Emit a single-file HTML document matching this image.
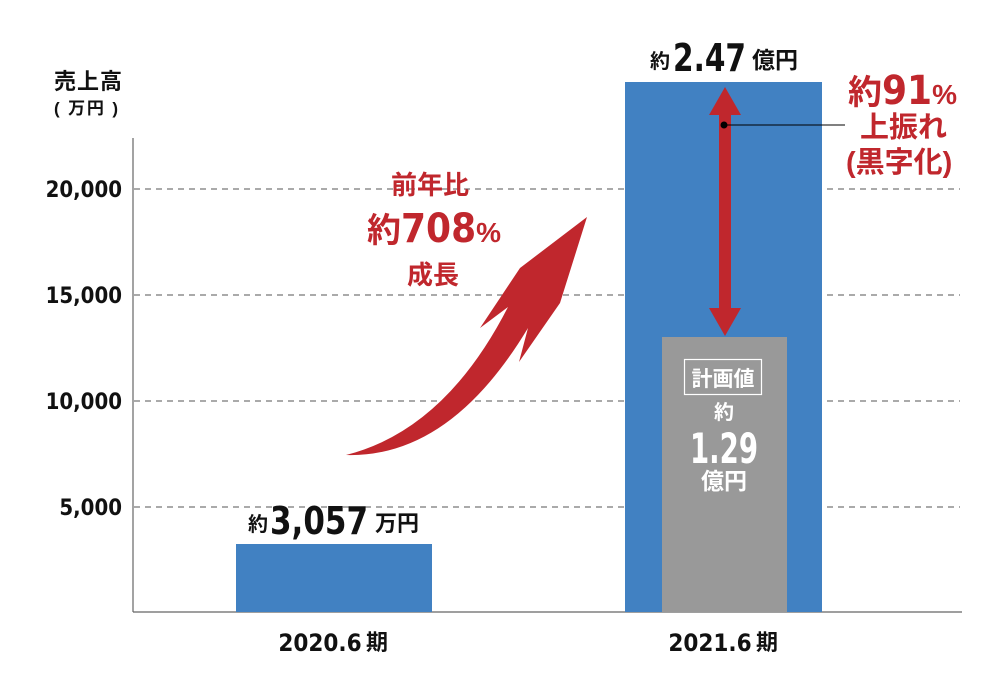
<!DOCTYPE html>
<html><head><meta charset="utf-8"><style>
body{margin:0;background:#fff}
svg{display:block}
.j{font-family:"Liberation Sans","Noto Sans CJK JP",sans-serif;font-weight:bold}
.n{font-family:"DejaVu Sans Condensed","Liberation Sans",sans-serif;font-weight:bold}
</style></head><body>
<svg width="1000" height="696" viewBox="0 0 1000 696">
<g stroke="#555" stroke-width="1" stroke-dasharray="6,5">
<line x1="134" y1="189" x2="960" y2="189"/>
<line x1="134" y1="295" x2="960" y2="295"/>
<line x1="134" y1="401" x2="960" y2="401"/>
<line x1="134" y1="507" x2="960" y2="507"/>
</g>
<line x1="133" y1="138" x2="133" y2="612" stroke="#666" stroke-width="1.2"/>
<line x1="133" y1="612" x2="962" y2="612" stroke="#666" stroke-width="1.2"/>
<rect x="236" y="544" width="196" height="68" fill="#4181c2"/>
<rect x="625" y="82" width="197" height="530" fill="#4181c2"/>
<rect x="662" y="337" width="125" height="275" fill="#999"/>
<g class="n" font-size="22" fill="#111" text-anchor="end">
<text x="122" y="197">20,000</text>
<text x="122" y="303">15,000</text>
<text x="122" y="409">10,000</text>
<text x="122" y="515">5,000</text>
</g>
<text class="j" x="54" y="89" font-size="22" fill="#111" textLength="68">売上高</text>
<text class="j" x="54" y="114" font-size="17" fill="#111" textLength="64">( 万円 )</text>
<text class="j" x="248" y="531" font-size="20" fill="#111">約</text>
<text class="n" x="270" y="534" font-size="38" fill="#111" textLength="98" lengthAdjust="spacingAndGlyphs">3,057</text>
<text class="j" x="375" y="531" font-size="22" fill="#111">万円</text>
<text class="j" x="650" y="68" font-size="20" fill="#111">約</text>
<text class="n" x="673" y="71" font-size="38" fill="#111" textLength="73" lengthAdjust="spacingAndGlyphs">2.47</text>
<text class="j" x="752" y="68" font-size="23" fill="#111">億円</text>
<text class="j" x="848" y="104" font-size="34" fill="#c0272d">約<tspan class="n" font-size="40">91</tspan><tspan font-size="28">%</tspan></text>
<text class="j" x="860" y="137" font-size="29" fill="#c0272d">上振れ</text>
<text class="j" x="846" y="172" font-size="29" fill="#c0272d">(黒字化)</text>
<text class="j" x="430" y="194" font-size="26" fill="#c0272d" text-anchor="middle">前年比</text>
<text class="j" x="367" y="242" font-size="34" fill="#c0272d">約<tspan class="n" font-size="40">708</tspan><tspan font-size="28">%</tspan></text>
<text class="j" x="433" y="284" font-size="26" fill="#c0272d" text-anchor="middle">成長</text>
<path d="M346,455 Q445,430 508,307 L480,328 L520,268 L587,217 L560,303 L519,362 L528,328 Q450,458 346,455 Z" fill="#c0272d"/>
<rect x="719" y="113" width="12" height="197" fill="#c0272d"/>
<polygon points="725,87 741,115 709,115" fill="#c0272d"/>
<polygon points="725,336 741,308 709,308" fill="#c0272d"/>
<line x1="724" y1="125" x2="845" y2="125" stroke="#000" stroke-width="1"/>
<circle cx="724" cy="125" r="3.5" fill="#000"/>
<rect x="684.5" y="359.5" width="77" height="35" fill="none" stroke="#fff" stroke-width="1.2"/>
<text class="j" x="723" y="386" font-size="21" fill="#fff" text-anchor="middle">計画値</text>
<text class="j" x="724" y="419" font-size="20" fill="#fff" text-anchor="middle">約</text>
<text class="n" x="724" y="463" font-size="42" fill="#fff" text-anchor="middle" textLength="68" lengthAdjust="spacingAndGlyphs">1.29</text>
<text class="j" x="724" y="489" font-size="23" fill="#fff" text-anchor="middle">億円</text>
<text class="n" x="320" y="651" font-size="24" fill="#111" text-anchor="middle">2020.6</text>
<text class="j" x="377" y="650" font-size="22" fill="#111" text-anchor="middle">期</text>
<text class="n" x="710" y="651" font-size="24" fill="#111" text-anchor="middle">2021.6</text>
<text class="j" x="767" y="650" font-size="22" fill="#111" text-anchor="middle">期</text>
</svg>
</body></html>
